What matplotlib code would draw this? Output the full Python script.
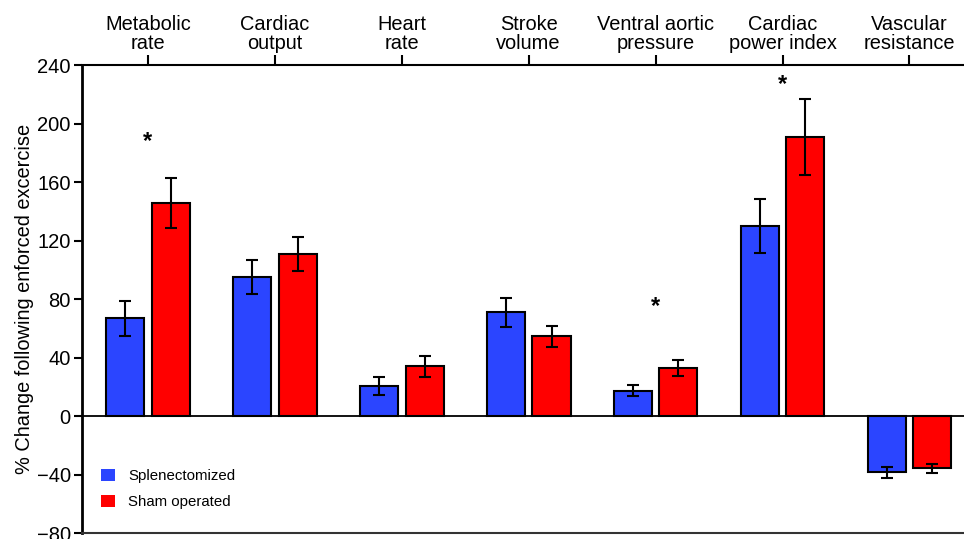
import matplotlib
matplotlib.use("Agg")
import matplotlib.pyplot as plt
import numpy as np

plt.rcParams['font.family'] = ['Liberation Sans', 'DejaVu Sans']

categories = ["Metabolic\nrate", "Cardiac\noutput", "Heart\nrate", "Stroke\nvolume",
              "Ventral aortic\npressure", "Cardiac\npower index", "Vascular\nresistance"]
splenectomized = [67, 95, 20.5, 71, 17.5, 130, -38.5]
splen_err = [12, 11.5, 6, 10, 3.5, 18.5, 3.5]
sham = [146, 111, 34, 54.5, 33, 191, -35.8]
sham_err = [17, 11.5, 7, 7, 5.6, 26, 3]
star_cats = [0, 4, 5]
star_y = [188, 75, 227]
yticks = [-80, -40, 0, 40, 80, 120, 160, 200, 240]

blue = '#2b45ff'
red = '#ff0000'

fig = plt.figure(figsize=(9.64, 5.39), dpi=100)
ax = fig.add_axes([0.085, 0.011, 0.915, 0.868])

x = np.arange(len(categories))
w = 0.3
off = 0.18
ekw = dict(elinewidth=1.5, capthick=1.5, ecolor='black')
ax.bar(x - off, splenectomized, w, color=blue, edgecolor='black', linewidth=1.5,
       yerr=splen_err, capsize=4.5, error_kw=ekw, label='Splenectomized', zorder=3)
ax.bar(x + off, sham, w, color=red, edgecolor='black', linewidth=1.5,
       yerr=sham_err, capsize=4.5, error_kw=ekw, label='Sham operated', zorder=3)

for c, yv in zip(star_cats, star_y):
    ax.text(c, yv, '*', ha='center', va='center', fontsize=17, fontweight='bold')

ax.axhline(0, color='black', linewidth=1.3, zorder=2)

ax.set_xlim(-0.52, 6.43)
ax.set_ylim(-80, 240)
ax.set_yticks(yticks)
ax.set_yticklabels([str(t).replace('-', '\u2212') for t in yticks], fontsize=14.5)
ax.set_xticks(x)
ax.set_xticklabels(categories, fontsize=14.4, linespacing=1.0)
ax.xaxis.tick_top()
ax.tick_params(axis='x', direction='out', length=7, width=1.5, pad=2)
ax.tick_params(axis='y', direction='out', length=6, width=1.5, pad=2)
ax.spines['right'].set_visible(False)
ax.spines['left'].set_linewidth(2)
ax.spines['top'].set_linewidth(1.5)
ax.spines['bottom'].set_linewidth(1.5)
ax.spines['bottom'].set_color('#333333')
ax.set_ylabel('% Change following enforced excercise', fontsize=14.4, labelpad=2)

leg = ax.legend(loc='lower left', bbox_to_anchor=(0.0, 0.0), frameon=False,
                fontsize=10.8, handlelength=0.9, handleheight=0.9,
                handletextpad=0.9, labelspacing=0.75, borderaxespad=0.0)
for h in leg.legend_handles:
    h.set_edgecolor('none')
fig.canvas.draw()
leg.set_bbox_to_anchor((95 / 964, 1 - 515 / 539), transform=fig.transFigure)

fig.savefig('out.png', dpi=100)
